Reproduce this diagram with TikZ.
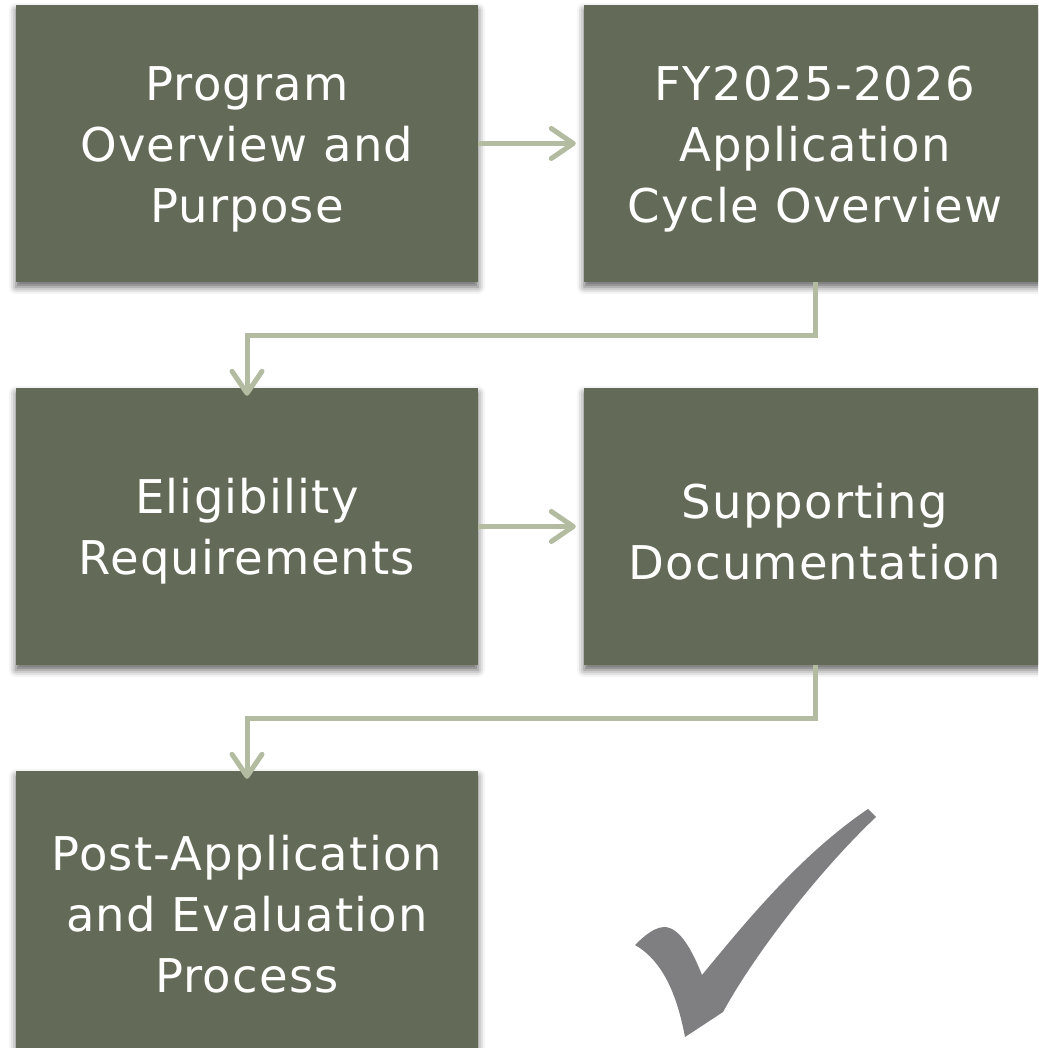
\documentclass[tikz,border=0pt]{standalone}
\usepackage{fontspec}
\newfontfamily\boxfont[LetterSpace=2.5,Ligatures=NoCommon]{DejaVu Sans}
\usetikzlibrary{arrows.meta,shadows.blur}
\definecolor{boxgreen}{HTML}{636A57}
\definecolor{arrowsage}{HTML}{B3BCA1}
\definecolor{checkgray}{HTML}{7F7E80}
\newcommand\toppad{\mbox{}\\[-16pt]}
\tikzset{
  stepbox/.style={rectangle, fill=boxgreen, draw=none, minimum width=462pt, minimum height=277pt,
    text=white, align=center, inner sep=0pt,
    font=\boxfont\fontsize{46.5}{61}\selectfont,
    blur shadow={shadow xshift=0pt, shadow yshift=-5pt, shadow blur radius=7pt, shadow opacity=60}},
  flow/.style={draw=arrowsage, line width=5pt,
    -{Straight Barb[length=22pt,width=30pt,line cap=round,line join=round]}},
}
\begin{document}
\begin{tikzpicture}[x=1pt,y=-1pt]
\useasboundingbox (0,0) rectangle (1038,1048);
\clip (0,0) rectangle (1038,1048);
\node[stepbox] (b1) at (247,143.5) {\toppad Program\\Overview and\\Purpose};
\node[stepbox] (b2) at (815,143.5) {\toppad FY2025-2026\\Application\\Cycle Overview};
\node[stepbox] (b3) at (247,526.5) {\toppad Eligibility\\Requirements};
\node[stepbox] (b4) at (815,526.5) {\toppad Supporting\\Documentation};
\node[stepbox] (b5) at (247,909.5) {\toppad Post-Application\\and Evaluation\\Process};
\draw[flow] (b1.east) -- ([xshift=-8pt]b2.west);
\draw[flow] (b3.east) -- ([xshift=-8pt]b4.west);
\draw[flow] (b2.south) -- ++(0,53) -| ([yshift=-8pt]b3.north);
\draw[flow] (b4.south) -- ++(0,53) -| ([yshift=-8pt]b5.north);
\fill[checkgray] (868,809) -- (876,817)
  .. controls (822,868) and (757,950) .. (723,1012)
  -- (685,1037)
  .. controls (678,1000) and (665,962) .. (635,945)
  .. controls (645,935) and (655,927) .. (665,927)
  .. controls (680,928) and (692,950) .. (702,975)
  .. controls (744,924) and (800,855) .. (868,809) -- cycle;
\end{tikzpicture}
\end{document}
